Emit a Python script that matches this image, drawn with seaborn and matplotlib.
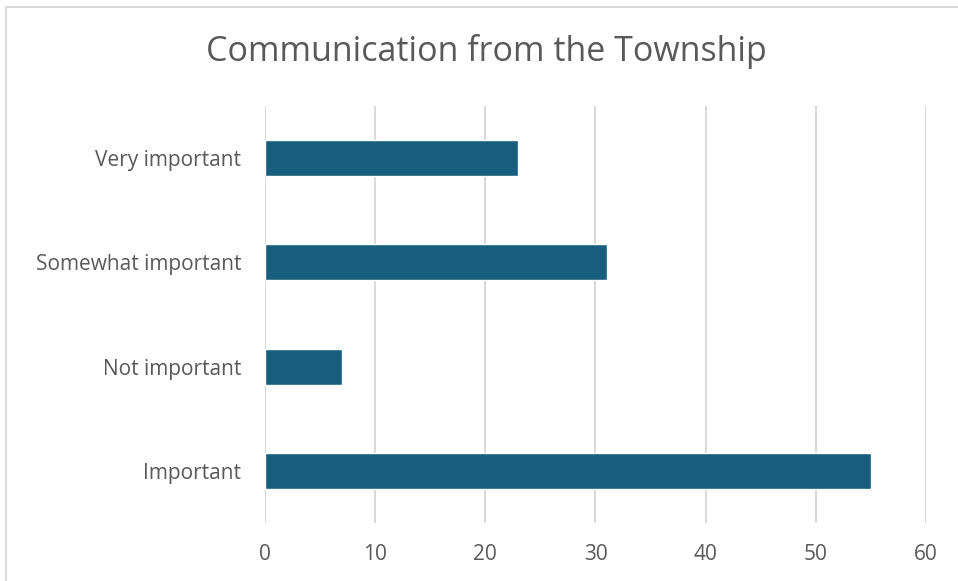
# Horizontal bar chart: Communication from the Township
import seaborn as sns
import matplotlib.pyplot as plt
import pandas as pd
from matplotlib.lines import Line2D

categories = ["Very important", "Somewhat important", "Not important", "Important"]
counts = [23, 31, 7, 55]
x_ticks = [0, 10, 20, 30, 40, 50, 60]

df = pd.DataFrame({"category": categories, "count": counts})

sns.set_theme(style="white")
plt.rcParams['font.family'] = ['Open Sans', 'DejaVu Sans']

text_color = "#595959"
grid_color = "#d9d9d9"

fig = plt.figure(figsize=(9.58, 5.81), dpi=100)
ax = fig.add_axes([0.2766, 0.0998, 0.69, 0.7178])

sns.barplot(data=df, x="count", y="category", order=categories,
            color="#175e7f", saturation=1, width=0.345, ax=ax, zorder=3)

ax.set_xlim(0, 60)
ax.set_ylim(3.5, -0.5)
ax.set_xticks(x_ticks)
ax.set_xticklabels([str(t) for t in x_ticks])
ax.grid(axis="x", color=grid_color, lw=1.5, zorder=0)
for s in ax.spines.values():
    s.set_visible(False)
ax.tick_params(axis="both", length=0, labelsize=15, colors=text_color)
ax.tick_params(axis="y", pad=17)
ax.tick_params(axis="x", pad=15)
ax.set_xlabel("")
ax.set_ylabel("")

fig.text(0.508, 0.912, "Communication from the Township", ha="center", va="center",
         fontsize=24.5, color=text_color)

# chart frame (top and left edges visible in the reference crop)
fig.add_artist(Line2D([6 / 958, 6 / 958], [0, 1 - 7 / 581], color=grid_color, lw=1.5))
fig.add_artist(Line2D([6 / 958, 1], [1 - 7 / 581, 1 - 7 / 581], color=grid_color, lw=1.5))

fig.savefig("out.png", dpi=100)
